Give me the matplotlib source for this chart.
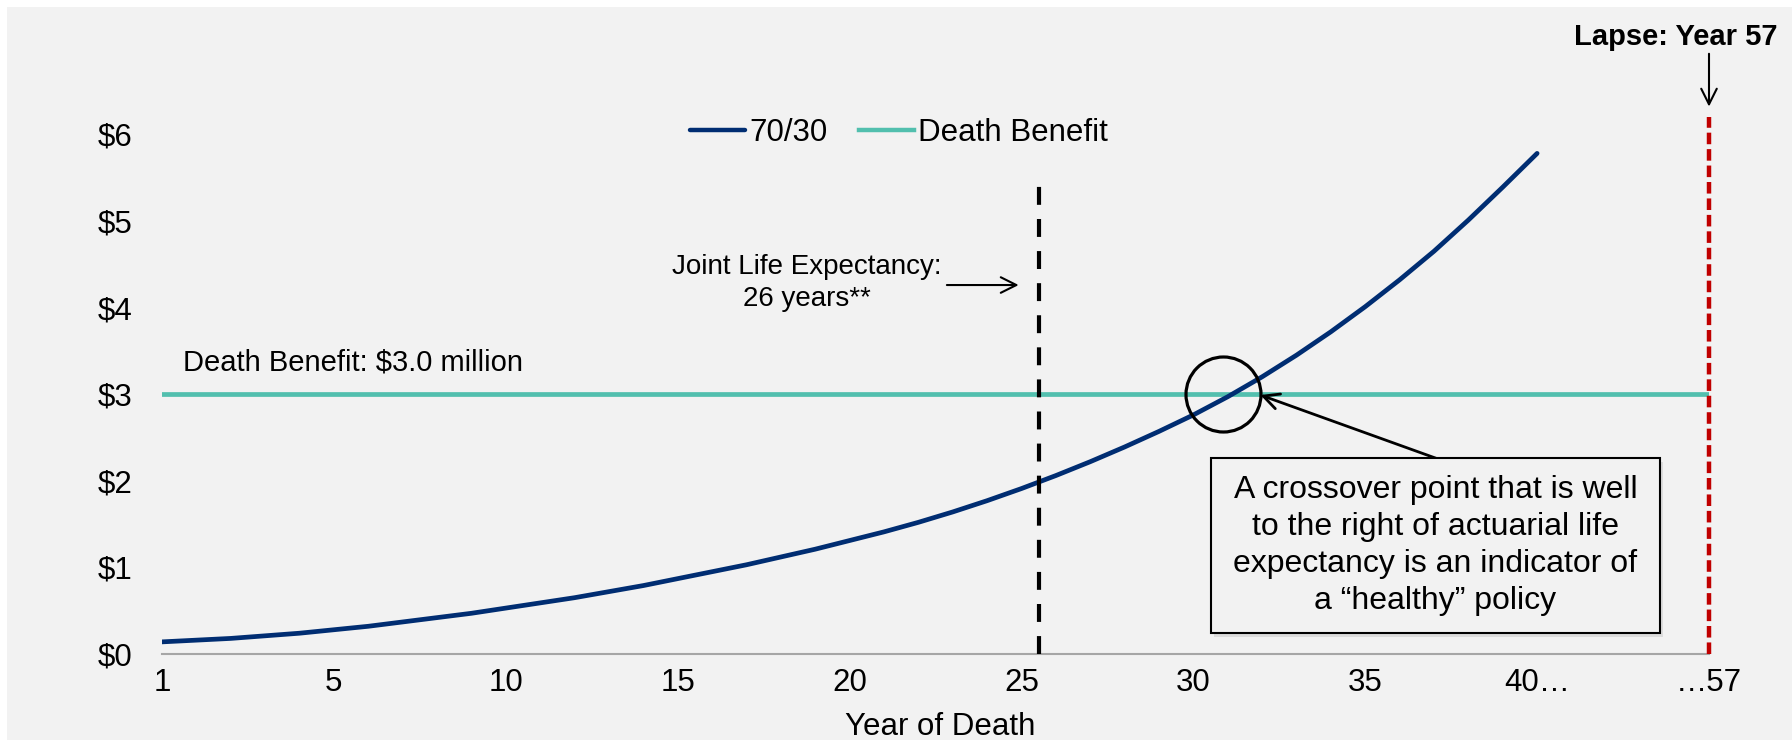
import matplotlib.pyplot as plt
from matplotlib.patches import Rectangle

# chart positions: "1" sits at 0, labels every 5, the break "...57" at 45
year_pos = list(range(41))
value_7030 = [0.14, 0.16, 0.18, 0.21, 0.24, 0.28, 0.32, 0.37, 0.42, 0.47,
              0.53, 0.59, 0.65, 0.72, 0.79, 0.87, 0.95, 1.03, 1.12, 1.21,
              1.31, 1.41, 1.52, 1.64, 1.77, 1.91, 2.06, 2.22, 2.39, 2.57,
              2.76, 2.97, 3.20, 3.45, 3.72, 4.01, 4.32, 4.65, 5.01, 5.39,
              5.78]
db_pos = [0, 45]
death_benefit = [3.0, 3.0]

tick_pos = [0, 5, 10, 15, 20, 25, 30, 35, 40, 45]
tick_labels = ["1", "5", "10", "15", "20", "25", "30", "35", "40\u2026", "\u202657"]
y_ticks = [0, 1, 2, 3, 4, 5, 6]
y_labels = ["$0", "$1", "$2", "$3", "$4", "$5", "$6"]

joint_le_pos = 25.5
joint_le_top = 5.47
lapse_pos = 45
crossover = (30.85, 3.0)

NAVY = "#002d72"
TEAL = "#52bfae"
RED = "#c00000"
BG = "#f2f2f2"

plt.rcParams["font.family"] = ["Liberation Sans", "DejaVu Sans"]

W, H = 1792, 740
fig = plt.figure(figsize=(W / 100, H / 100), dpi=100, facecolor="white")
fig.patches.append(Rectangle((7 / W, 0), 1, 1 - 7 / H, transform=fig.transFigure,
                             facecolor=BG, edgecolor="none", zorder=-10))

ax = fig.add_axes([162 / W, 1 - 654 / H, (1709 - 162) / W, (654 - 117) / H])
ax.set_facecolor(BG)
ax.patch.set_alpha(0)

l1, = ax.plot(year_pos, value_7030, color=NAVY, lw=3.4, solid_capstyle="round",
              solid_joinstyle="round", label="70/30", zorder=3)
l2, = ax.plot(db_pos, death_benefit, color=TEAL, lw=3.4, label="Death Benefit", zorder=2)

ax.plot([joint_le_pos, joint_le_pos], [0, joint_le_top], color="black", lw=3,
        dashes=(4.3, 3.4), zorder=4)
ax.plot([lapse_pos, lapse_pos], [0, 6.2], color=RED, lw=3.2, dashes=(2.6, 1.1),
        zorder=4, clip_on=False)

ax.set_xlim(0, 45)
ax.set_ylim(0, 6.2)
ax.set_xticks(tick_pos)
ax.set_xticklabels(tick_labels)
ax.set_yticks(y_ticks)
ax.set_yticklabels(y_labels)
ax.tick_params(axis="x", length=0, pad=10, labelsize=22.5)
ax.tick_params(axis="y", length=0, pad=21, labelsize=22.5)
for s in ["top", "right", "left"]:
    ax.spines[s].set_visible(False)
ax.spines["bottom"].set_color("#a6a6a6")
ax.spines["bottom"].set_linewidth(1.5)
ax.set_xlabel("Year of Death", fontsize=22.5, labelpad=1)
ax.xaxis.set_label_coords(0.503, -0.108, transform=ax.transAxes)
ax.xaxis.label.set_va("top")

leg = fig.legend(handles=[l1, l2], loc="center", bbox_to_anchor=(899 / W, 1 - 133 / H),
                 ncol=2, frameon=False, fontsize=22.5, handlelength=1.75,
                 handletextpad=0.15, columnspacing=1.0, borderpad=0)
for h in leg.legend_handles:
    h.set_linewidth(3.2)

ax.text(0.6, 3.36, "Death Benefit: $3.0 million", fontsize=21, ha="left", va="center")

ax.text(18.75, 4.28, "Joint Life Expectancy:\n26 years**", fontsize=20,
        ha="center", va="center", linespacing=1.3)
ax.annotate("", xy=(25.0, 4.26), xytext=(22.75, 4.26),
            arrowprops=dict(arrowstyle="->", color="black", lw=1.5, mutation_scale=28))

# crossover circle and callout
ax.plot(*crossover, marker="o", ms=54, mfc="none", mec="black", mew=2.3, zorder=5)
ax.annotate("", xy=(31.95, 2.99), xytext=(37.06, 2.26),
            arrowprops=dict(arrowstyle="->", color="black", lw=2, mutation_scale=28,
                            shrinkA=0, shrinkB=0), zorder=6)

bx0, by0, bx1, by1 = 1211, 633, 1660, 458
fig.patches.append(Rectangle(((bx0 + 3) / W, 1 - (by0 + 4) / H), (bx1 - bx0) / W, (by0 - by1) / H,
                             transform=fig.transFigure, facecolor="#dcdcdc",
                             edgecolor="none", zorder=5))
fig.patches.append(Rectangle((bx0 / W, 1 - by0 / H), (bx1 - bx0) / W, (by0 - by1) / H,
                             transform=fig.transFigure, facecolor=BG,
                             edgecolor="black", lw=1.5, zorder=6))
fig.text((bx0 + bx1) / 2 / W, 1 - (by0 + by1) / 2 / H,
         "A crossover point that is well\nto the right of actuarial life\n"
         "expectancy is an indicator of\na \u201chealthy\u201d policy",
         fontsize=23, ha="center", va="center", linespacing=1.3, zorder=7)

# lapse marker above the plot
fig.text(1676 / W, 1 - 37 / H, "Lapse: Year 57", fontsize=21, fontweight="bold",
         ha="center", va="center")
ax.annotate("", xy=(lapse_pos, 6.32), xytext=(lapse_pos, 6.93), annotation_clip=False,
            arrowprops=dict(arrowstyle="->", color="black", lw=1.5, mutation_scale=28,
                            shrinkA=0, shrinkB=0))

fig.savefig("out.png", dpi=100, facecolor="white")
